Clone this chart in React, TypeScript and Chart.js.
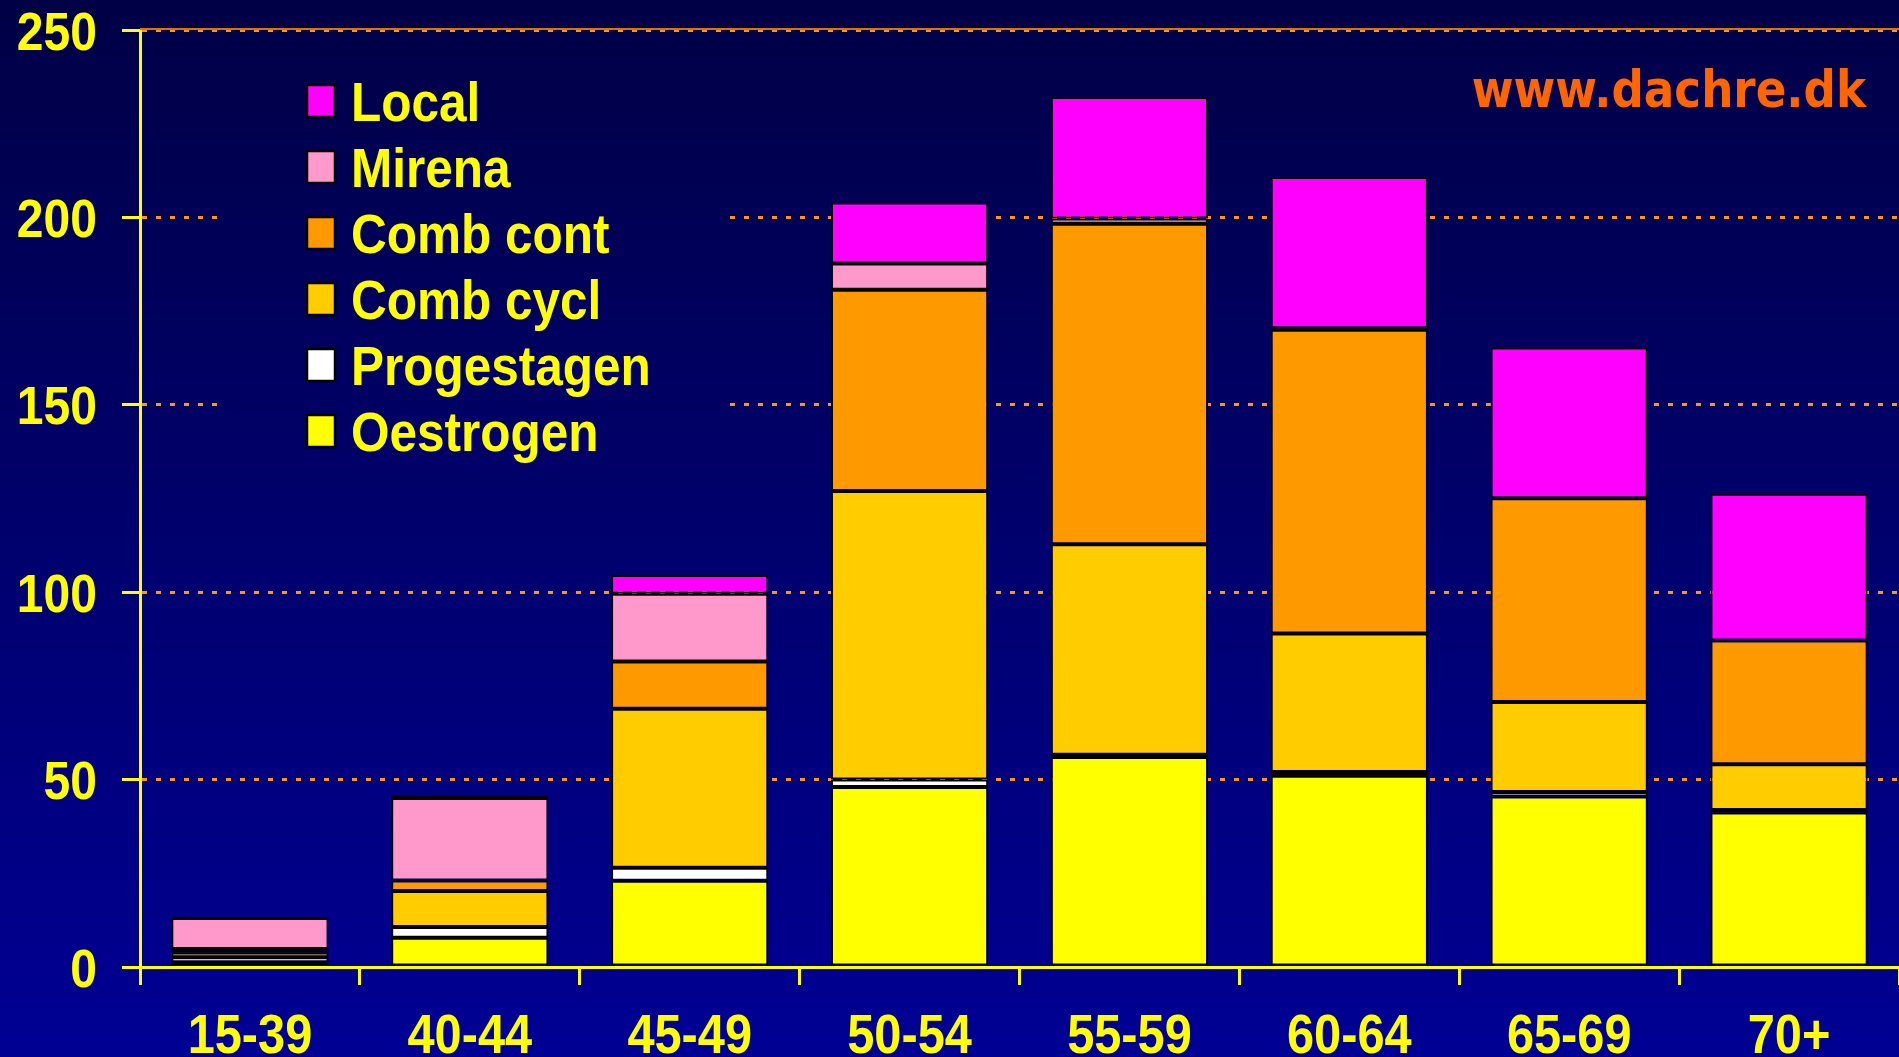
import React, { useEffect, useRef } from 'react';
import { Chart, registerables } from 'chart.js';

Chart.register(...registerables);

const categories = ['15-39', '40-44', '45-49', '50-54', '55-59', '60-64', '65-69', '70+'];
const oestrogen = [1.3, 7.8, 23, 48, 56, 51, 45.5, 41.2];
const progestagen = [1.3, 2.9, 3.5, 2, 0.6, 1, 1.2, 0.7];
const combCycl = [1.3, 9.6, 42.4, 77, 56.2, 37, 24, 12.2];
const combCont = [0.9, 2.8, 12.6, 53.7, 85.5, 81, 54.4, 33];
const mirena = [8.3, 22, 18.1, 7, 1.4, 0.4, 0, 0];
const local = [0.3, 0.5, 5, 16.3, 32.4, 40.4, 40.2, 39.2];
const yTicks = [0, 50, 100, 150, 200, 250];
const watermark = 'www.dachre.dk';

const SANS = "'Liberation Sans', Arial, sans-serif";
const WIDE = "'DejaVu Sans', Verdana, sans-serif";

function bgGradient(ctx: CanvasRenderingContext2D, h: number) {
  const g = ctx.createLinearGradient(0, 0, 0, h);
  g.addColorStop(0, '#000046');
  g.addColorStop(1, '#000094');
  return g;
}

function drawText(
  ctx: CanvasRenderingContext2D,
  text: string,
  x: number,
  y: number,
  font: string,
  color: string,
  align: CanvasTextAlign,
  scaleX: number,
) {
  ctx.save();
  ctx.translate(x, y);
  ctx.scale(scaleX, 1);
  ctx.font = font;
  ctx.fillStyle = color;
  ctx.textAlign = align;
  ctx.textBaseline = 'alphabetic';
  ctx.fillText(text, 0, 0);
  ctx.restore();
}

const decorPlugin = {
  id: 'decor',
  beforeDraw(chart: any) {
    const ctx = chart.ctx as CanvasRenderingContext2D;
    ctx.save();
    ctx.fillStyle = bgGradient(ctx, chart.height);
    ctx.fillRect(0, 0, chart.width, chart.height);
    ctx.restore();
  },
  beforeDatasetsDraw(chart: any) {
    const ctx = chart.ctx as CanvasRenderingContext2D;
    const area = chart.chartArea;
    ctx.save();
    // legend backdrop hides the grid lines behind it
    ctx.fillStyle = bgGradient(ctx, chart.height);
    ctx.fillRect(218, 50, 510, 430);
    // solid line at the top value
    const yTop = chart.scales.y.getPixelForValue(250);
    ctx.strokeStyle = '#E07000';
    ctx.lineWidth = 2;
    ctx.beginPath();
    ctx.moveTo(area.left, yTop - 1);
    ctx.lineTo(area.right, yTop - 1);
    ctx.stroke();
    ctx.restore();
  },
  afterDatasetsDraw(chart: any) {
    const ctx = chart.ctx as CanvasRenderingContext2D;
    const ds = chart.data.datasets;
    const xs = chart.scales.x;
    const ys = chart.scales.y;

    // y tick labels
    yTicks.forEach((v) => {
      const py = ys.getPixelForValue(v);
      drawText(ctx, String(v), 97, py + 19.5, `bold 54px ${SANS}`, '#FFFF00', 'right', 0.89);
    });

    // x tick labels
    categories.forEach((lab, i) => {
      const px = xs.getPixelForValue(i);
      drawText(ctx, lab, px, 1053, `bold 56px ${SANS}`, '#FFFF00', 'center', 0.87);
    });

    // legend
    ctx.save();
    let row = 0;
    for (let i = ds.length - 1; i >= 0; i--, row++) {
      const cy = 101 + row * 66;
      ctx.fillStyle = ds[i].backgroundColor;
      ctx.fillRect(307, cy - 16, 28, 32);
      ctx.strokeStyle = '#000000';
      ctx.lineWidth = 2.5;
      ctx.strokeRect(307, cy - 16, 28, 32);
      drawText(ctx, ds[i].label, 351, cy + 20, `bold 55px ${SANS}`, '#FFFF00', 'left', 0.9);
    }
    ctx.restore();

    // watermark
    drawText(ctx, watermark, 1866, 107, `bold 52px ${WIDE}`, '#FF6600', 'right', 0.87);
  },
};

export default function App() {
  const ref = useRef<HTMLCanvasElement | null>(null);

  useEffect(() => {
    document.body.style.margin = '0';
    document.body.style.background = '#000060';
    const canvas = ref.current;
    if (!canvas) return;
    const mk = (label: string, data: number[], color: string) => ({
      label,
      data,
      backgroundColor: color,
      borderColor: '#000000',
      borderWidth: 2,
      borderSkipped: false,
      categoryPercentage: 1,
      barPercentage: 0.715,
    });
    const chart = new Chart(canvas, {
      type: 'bar',
      data: {
        labels: categories,
        datasets: [
          mk('Oestrogen', oestrogen, '#FFFF00'),
          mk('Progestagen', progestagen, '#FFFFFF'),
          mk('Comb cycl', combCycl, '#FFCC00'),
          mk('Comb cont', combCont, '#FF9900'),
          mk('Mirena', mirena, '#FF99CC'),
          mk('Local', local, '#FF00FF'),
        ] as any,
      },
      options: {
        animation: false,
        responsive: false,
        maintainAspectRatio: false,
        devicePixelRatio: 1,
        layout: { padding: { top: 30, right: 0, left: 0, bottom: 0 } },
        plugins: {
          legend: { display: false },
          tooltip: { enabled: false },
          title: { display: false },
        },
        scales: {
          x: {
            stacked: true,
            offset: true,
            grid: {
              display: true,
              offset: true,
              drawOnChartArea: false,
              drawTicks: true,
              tickLength: 18,
              tickColor: '#FFFF00',
              tickWidth: 3,
            },
            border: { display: true, color: '#FFFF00', width: 3 },
            ticks: { display: false, autoSkip: false, maxRotation: 0 },
            afterFit: (s: any) => {
              s.height = 90;
            },
          } as any,
          y: {
            stacked: true,
            min: 0,
            max: 250,
            afterBuildTicks: (s: any) => {
              s.ticks = yTicks.map((v) => ({ value: v }));
            },
            grid: {
              display: true,
              color: (c: any) => (c.tick && c.tick.value === 0 ? 'rgba(0,0,0,0)' : '#FF9900'),
              lineWidth: 3,
              drawTicks: true,
              tickLength: 18,
              tickColor: '#FFFF00',
              tickWidth: 3,
              tickBorderDash: [],
            },
            border: { display: true, color: '#FFFF00', width: 3, dash: [5, 9] },
            ticks: { display: false },
            afterFit: (s: any) => {
              s.width = 140;
            },
          } as any,
        },
      },
      plugins: [decorPlugin],
    });
    return () => chart.destroy();
  }, []);

  return (
    <div style={{ width: 1899, height: 1057, position: 'relative', overflow: 'hidden' }}>
      <canvas ref={ref} width={1899} height={1057} style={{ display: 'block' }} />
    </div>
  );
}
